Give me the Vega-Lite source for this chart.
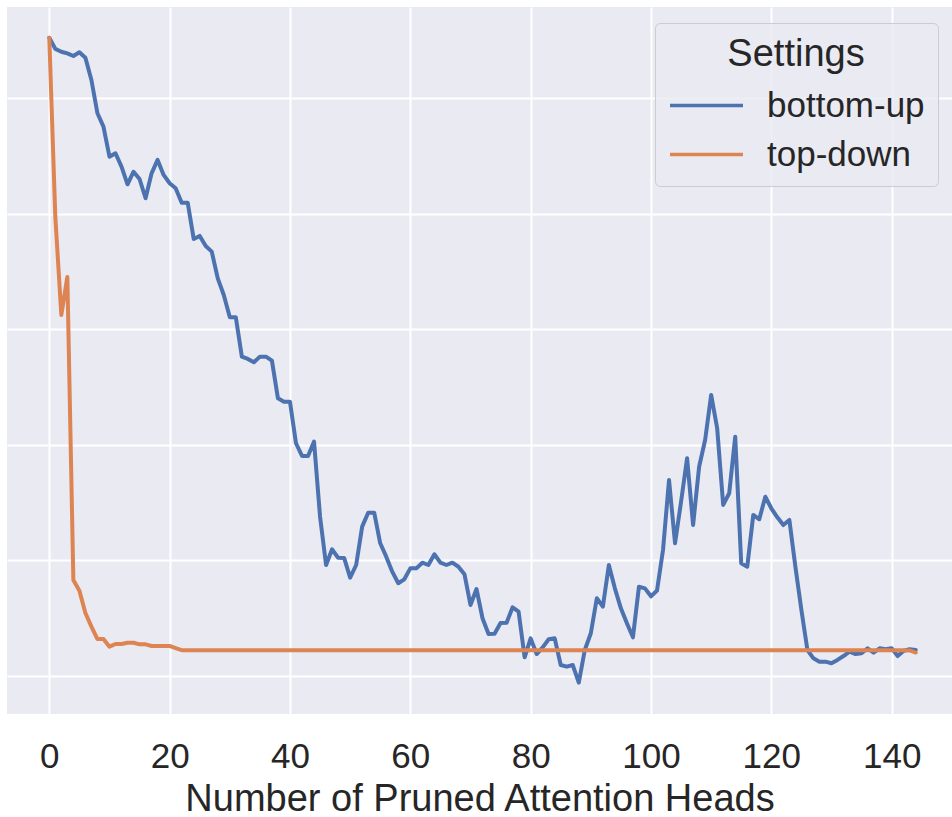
{
  "$schema": "https://vega.github.io/schema/vega-lite/v6.json",
  "width": 945,
  "height": 707,
  "autosize": "none",
  "padding": {"left": 7, "top": 7, "right": 0, "bottom": 103},
  "background": "white",
  "config": {
    "view": {"fill": "#EAEAF2", "stroke": null},
    "font": "Liberation Sans"
  },
  "data": {
    "values": [
      {"heads":0,"setting":"bottom-up","score":5.526},{"heads":1,"setting":"bottom-up","score":5.429},{"heads":2,"setting":"bottom-up","score":5.405},{"heads":3,"setting":"bottom-up","score":5.391},{"heads":4,"setting":"bottom-up","score":5.368},{"heads":5,"setting":"bottom-up","score":5.400},{"heads":6,"setting":"bottom-up","score":5.353},{"heads":7,"setting":"bottom-up","score":5.160},{"heads":8,"setting":"bottom-up","score":4.872},{"heads":9,"setting":"bottom-up","score":4.756},
      {"heads":10,"setting":"bottom-up","score":4.496},{"heads":11,"setting":"bottom-up","score":4.526},{"heads":12,"setting":"bottom-up","score":4.410},{"heads":13,"setting":"bottom-up","score":4.257},{"heads":14,"setting":"bottom-up","score":4.366},{"heads":15,"setting":"bottom-up","score":4.303},{"heads":16,"setting":"bottom-up","score":4.136},{"heads":17,"setting":"bottom-up","score":4.352},{"heads":18,"setting":"bottom-up","score":4.468},{"heads":19,"setting":"bottom-up","score":4.338},
      {"heads":20,"setting":"bottom-up","score":4.266},{"heads":21,"setting":"bottom-up","score":4.223},{"heads":22,"setting":"bottom-up","score":4.098},{"heads":23,"setting":"bottom-up","score":4.098},{"heads":24,"setting":"bottom-up","score":3.784},{"heads":25,"setting":"bottom-up","score":3.810},{"heads":26,"setting":"bottom-up","score":3.723},{"heads":27,"setting":"bottom-up","score":3.674},{"heads":28,"setting":"bottom-up","score":3.443},{"heads":29,"setting":"bottom-up","score":3.299},
      {"heads":30,"setting":"bottom-up","score":3.106},{"heads":31,"setting":"bottom-up","score":3.106},{"heads":32,"setting":"bottom-up","score":2.765},{"heads":33,"setting":"bottom-up","score":2.745},{"heads":34,"setting":"bottom-up","score":2.716},{"heads":35,"setting":"bottom-up","score":2.765},{"heads":36,"setting":"bottom-up","score":2.765},{"heads":37,"setting":"bottom-up","score":2.730},{"heads":38,"setting":"bottom-up","score":2.404},{"heads":39,"setting":"bottom-up","score":2.375},
      {"heads":40,"setting":"bottom-up","score":2.375},{"heads":41,"setting":"bottom-up","score":2.015},{"heads":42,"setting":"bottom-up","score":1.905},{"heads":43,"setting":"bottom-up","score":1.905},{"heads":44,"setting":"bottom-up","score":2.029},{"heads":45,"setting":"bottom-up","score":1.379},{"heads":46,"setting":"bottom-up","score":0.961},{"heads":47,"setting":"bottom-up","score":1.097},{"heads":48,"setting":"bottom-up","score":1.024},{"heads":49,"setting":"bottom-up","score":1.022},
      {"heads":50,"setting":"bottom-up","score":0.851},{"heads":51,"setting":"bottom-up","score":0.961},{"heads":52,"setting":"bottom-up","score":1.293},{"heads":53,"setting":"bottom-up","score":1.414},{"heads":54,"setting":"bottom-up","score":1.414},{"heads":55,"setting":"bottom-up","score":1.149},{"heads":56,"setting":"bottom-up","score":1.033},{"heads":57,"setting":"bottom-up","score":0.903},{"heads":58,"setting":"bottom-up","score":0.803},{"heads":59,"setting":"bottom-up","score":0.837},
      {"heads":60,"setting":"bottom-up","score":0.932},{"heads":61,"setting":"bottom-up","score":0.932},{"heads":62,"setting":"bottom-up","score":0.981},{"heads":63,"setting":"bottom-up","score":0.961},{"heads":64,"setting":"bottom-up","score":1.054},{"heads":65,"setting":"bottom-up","score":0.981},{"heads":66,"setting":"bottom-up","score":0.961},{"heads":67,"setting":"bottom-up","score":0.981},{"heads":68,"setting":"bottom-up","score":0.946},{"heads":69,"setting":"bottom-up","score":0.881},
      {"heads":70,"setting":"bottom-up","score":0.615},{"heads":71,"setting":"bottom-up","score":0.753},{"heads":72,"setting":"bottom-up","score":0.500},{"heads":73,"setting":"bottom-up","score":0.364},{"heads":74,"setting":"bottom-up","score":0.366},{"heads":75,"setting":"bottom-up","score":0.459},{"heads":76,"setting":"bottom-up","score":0.461},{"heads":77,"setting":"bottom-up","score":0.595},{"heads":78,"setting":"bottom-up","score":0.557},{"heads":79,"setting":"bottom-up","score":0.162},
      {"heads":80,"setting":"bottom-up","score":0.326},{"heads":81,"setting":"bottom-up","score":0.190},{"heads":82,"setting":"bottom-up","score":0.248},{"heads":83,"setting":"bottom-up","score":0.318},{"heads":84,"setting":"bottom-up","score":0.326},{"heads":85,"setting":"bottom-up","score":0.095},{"heads":86,"setting":"bottom-up","score":0.081},{"heads":87,"setting":"bottom-up","score":0.095},{"heads":88,"setting":"bottom-up","score":-0.058},{"heads":89,"setting":"bottom-up","score":0.225},
      {"heads":90,"setting":"bottom-up","score":0.370},{"heads":91,"setting":"bottom-up","score":0.673},{"heads":92,"setting":"bottom-up","score":0.600},{"heads":93,"setting":"bottom-up","score":0.961},{"heads":94,"setting":"bottom-up","score":0.759},{"heads":95,"setting":"bottom-up","score":0.586},{"heads":96,"setting":"bottom-up","score":0.456},{"heads":97,"setting":"bottom-up","score":0.335},{"heads":98,"setting":"bottom-up","score":0.773},{"heads":99,"setting":"bottom-up","score":0.759},
      {"heads":100,"setting":"bottom-up","score":0.690},{"heads":101,"setting":"bottom-up","score":0.739},{"heads":102,"setting":"bottom-up","score":1.091},{"heads":103,"setting":"bottom-up","score":1.697},{"heads":104,"setting":"bottom-up","score":1.149},{"heads":105,"setting":"bottom-up","score":1.509},{"heads":106,"setting":"bottom-up","score":1.885},{"heads":107,"setting":"bottom-up","score":1.307},{"heads":108,"setting":"bottom-up","score":1.812},{"heads":109,"setting":"bottom-up","score":2.043},
      {"heads":110,"setting":"bottom-up","score":2.433},{"heads":111,"setting":"bottom-up","score":2.145},{"heads":112,"setting":"bottom-up","score":1.481},{"heads":113,"setting":"bottom-up","score":1.582},{"heads":114,"setting":"bottom-up","score":2.072},{"heads":115,"setting":"bottom-up","score":0.976},{"heads":116,"setting":"bottom-up","score":0.946},{"heads":117,"setting":"bottom-up","score":1.394},{"heads":118,"setting":"bottom-up","score":1.357},{"heads":119,"setting":"bottom-up","score":1.552},
      {"heads":120,"setting":"bottom-up","score":1.452},{"heads":121,"setting":"bottom-up","score":1.374},{"heads":122,"setting":"bottom-up","score":1.307},{"heads":123,"setting":"bottom-up","score":1.351},{"heads":124,"setting":"bottom-up","score":0.946},{"heads":125,"setting":"bottom-up","score":0.571},{"heads":126,"setting":"bottom-up","score":0.225},{"heads":127,"setting":"bottom-up","score":0.153},{"heads":128,"setting":"bottom-up","score":0.124},{"heads":129,"setting":"bottom-up","score":0.124},
      {"heads":130,"setting":"bottom-up","score":0.110},{"heads":131,"setting":"bottom-up","score":0.139},{"heads":132,"setting":"bottom-up","score":0.173},{"heads":133,"setting":"bottom-up","score":0.210},{"heads":134,"setting":"bottom-up","score":0.190},{"heads":135,"setting":"bottom-up","score":0.197},{"heads":136,"setting":"bottom-up","score":0.240},{"heads":137,"setting":"bottom-up","score":0.202},{"heads":138,"setting":"bottom-up","score":0.240},{"heads":139,"setting":"bottom-up","score":0.231},
      {"heads":140,"setting":"bottom-up","score":0.240},{"heads":141,"setting":"bottom-up","score":0.173},{"heads":142,"setting":"bottom-up","score":0.219},{"heads":143,"setting":"bottom-up","score":0.231},{"heads":144,"setting":"bottom-up","score":0.225},
      {"heads":0,"setting":"top-down","score":5.526},{"heads":1,"setting":"top-down","score":3.974},{"heads":2,"setting":"top-down","score":3.126},{"heads":3,"setting":"top-down","score":3.455},{"heads":4,"setting":"top-down","score":0.831},{"heads":5,"setting":"top-down","score":0.739},{"heads":6,"setting":"top-down","score":0.545},{"heads":7,"setting":"top-down","score":0.427},{"heads":8,"setting":"top-down","score":0.320},{"heads":9,"setting":"top-down","score":0.320},
      {"heads":10,"setting":"top-down","score":0.254},{"heads":11,"setting":"top-down","score":0.277},{"heads":12,"setting":"top-down","score":0.277},{"heads":13,"setting":"top-down","score":0.288},{"heads":14,"setting":"top-down","score":0.288},{"heads":15,"setting":"top-down","score":0.274},{"heads":16,"setting":"top-down","score":0.274},{"heads":17,"setting":"top-down","score":0.260},{"heads":18,"setting":"top-down","score":0.260},{"heads":19,"setting":"top-down","score":0.260},
      {"heads":20,"setting":"top-down","score":0.260},{"heads":21,"setting":"top-down","score":0.242},{"heads":22,"setting":"top-down","score":0.223},{"heads":23,"setting":"top-down","score":0.223},{"heads":24,"setting":"top-down","score":0.223},{"heads":25,"setting":"top-down","score":0.223},{"heads":26,"setting":"top-down","score":0.223},{"heads":27,"setting":"top-down","score":0.223},{"heads":28,"setting":"top-down","score":0.223},{"heads":29,"setting":"top-down","score":0.223},
      {"heads":30,"setting":"top-down","score":0.223},{"heads":31,"setting":"top-down","score":0.223},{"heads":32,"setting":"top-down","score":0.223},{"heads":33,"setting":"top-down","score":0.223},{"heads":34,"setting":"top-down","score":0.223},{"heads":35,"setting":"top-down","score":0.223},{"heads":36,"setting":"top-down","score":0.223},{"heads":37,"setting":"top-down","score":0.223},{"heads":38,"setting":"top-down","score":0.223},{"heads":39,"setting":"top-down","score":0.223},
      {"heads":40,"setting":"top-down","score":0.223},{"heads":41,"setting":"top-down","score":0.223},{"heads":42,"setting":"top-down","score":0.223},{"heads":43,"setting":"top-down","score":0.223},{"heads":44,"setting":"top-down","score":0.223},{"heads":45,"setting":"top-down","score":0.223},{"heads":46,"setting":"top-down","score":0.223},{"heads":47,"setting":"top-down","score":0.223},{"heads":48,"setting":"top-down","score":0.223},{"heads":49,"setting":"top-down","score":0.223},
      {"heads":50,"setting":"top-down","score":0.223},{"heads":51,"setting":"top-down","score":0.223},{"heads":52,"setting":"top-down","score":0.223},{"heads":53,"setting":"top-down","score":0.223},{"heads":54,"setting":"top-down","score":0.223},{"heads":55,"setting":"top-down","score":0.223},{"heads":56,"setting":"top-down","score":0.223},{"heads":57,"setting":"top-down","score":0.223},{"heads":58,"setting":"top-down","score":0.223},{"heads":59,"setting":"top-down","score":0.223},
      {"heads":60,"setting":"top-down","score":0.223},{"heads":61,"setting":"top-down","score":0.223},{"heads":62,"setting":"top-down","score":0.223},{"heads":63,"setting":"top-down","score":0.223},{"heads":64,"setting":"top-down","score":0.223},{"heads":65,"setting":"top-down","score":0.223},{"heads":66,"setting":"top-down","score":0.223},{"heads":67,"setting":"top-down","score":0.223},{"heads":68,"setting":"top-down","score":0.223},{"heads":69,"setting":"top-down","score":0.223},
      {"heads":70,"setting":"top-down","score":0.223},{"heads":71,"setting":"top-down","score":0.223},{"heads":72,"setting":"top-down","score":0.223},{"heads":73,"setting":"top-down","score":0.223},{"heads":74,"setting":"top-down","score":0.223},{"heads":75,"setting":"top-down","score":0.223},{"heads":76,"setting":"top-down","score":0.223},{"heads":77,"setting":"top-down","score":0.223},{"heads":78,"setting":"top-down","score":0.223},{"heads":79,"setting":"top-down","score":0.223},
      {"heads":80,"setting":"top-down","score":0.223},{"heads":81,"setting":"top-down","score":0.223},{"heads":82,"setting":"top-down","score":0.223},{"heads":83,"setting":"top-down","score":0.223},{"heads":84,"setting":"top-down","score":0.223},{"heads":85,"setting":"top-down","score":0.223},{"heads":86,"setting":"top-down","score":0.223},{"heads":87,"setting":"top-down","score":0.223},{"heads":88,"setting":"top-down","score":0.223},{"heads":89,"setting":"top-down","score":0.223},
      {"heads":90,"setting":"top-down","score":0.223},{"heads":91,"setting":"top-down","score":0.223},{"heads":92,"setting":"top-down","score":0.223},{"heads":93,"setting":"top-down","score":0.223},{"heads":94,"setting":"top-down","score":0.223},{"heads":95,"setting":"top-down","score":0.223},{"heads":96,"setting":"top-down","score":0.223},{"heads":97,"setting":"top-down","score":0.223},{"heads":98,"setting":"top-down","score":0.223},{"heads":99,"setting":"top-down","score":0.223},
      {"heads":100,"setting":"top-down","score":0.223},{"heads":101,"setting":"top-down","score":0.223},{"heads":102,"setting":"top-down","score":0.223},{"heads":103,"setting":"top-down","score":0.223},{"heads":104,"setting":"top-down","score":0.223},{"heads":105,"setting":"top-down","score":0.223},{"heads":106,"setting":"top-down","score":0.223},{"heads":107,"setting":"top-down","score":0.223},{"heads":108,"setting":"top-down","score":0.223},{"heads":109,"setting":"top-down","score":0.223},
      {"heads":110,"setting":"top-down","score":0.223},{"heads":111,"setting":"top-down","score":0.223},{"heads":112,"setting":"top-down","score":0.223},{"heads":113,"setting":"top-down","score":0.223},{"heads":114,"setting":"top-down","score":0.223},{"heads":115,"setting":"top-down","score":0.223},{"heads":116,"setting":"top-down","score":0.223},{"heads":117,"setting":"top-down","score":0.223},{"heads":118,"setting":"top-down","score":0.223},{"heads":119,"setting":"top-down","score":0.223},
      {"heads":120,"setting":"top-down","score":0.223},{"heads":121,"setting":"top-down","score":0.223},{"heads":122,"setting":"top-down","score":0.223},{"heads":123,"setting":"top-down","score":0.223},{"heads":124,"setting":"top-down","score":0.223},{"heads":125,"setting":"top-down","score":0.223},{"heads":126,"setting":"top-down","score":0.223},{"heads":127,"setting":"top-down","score":0.223},{"heads":128,"setting":"top-down","score":0.223},{"heads":129,"setting":"top-down","score":0.223},
      {"heads":130,"setting":"top-down","score":0.223},{"heads":131,"setting":"top-down","score":0.223},{"heads":132,"setting":"top-down","score":0.223},{"heads":133,"setting":"top-down","score":0.223},{"heads":134,"setting":"top-down","score":0.223},{"heads":135,"setting":"top-down","score":0.223},{"heads":136,"setting":"top-down","score":0.223},{"heads":137,"setting":"top-down","score":0.223},{"heads":138,"setting":"top-down","score":0.223},{"heads":139,"setting":"top-down","score":0.223},
      {"heads":140,"setting":"top-down","score":0.223},{"heads":141,"setting":"top-down","score":0.223},{"heads":142,"setting":"top-down","score":0.223},{"heads":143,"setting":"top-down","score":0.221},{"heads":144,"setting":"top-down","score":0.203}
    ]
  },
  "mark": {"type": "line", "strokeWidth": 4, "strokeCap": "round", "strokeJoin": "round", "clip": true},
  "encoding": {
    "x": {
      "field": "heads", "type": "quantitative",
      "scale": {"domain": [-7.03, 150.03], "nice": false, "zero": false},
      "axis": {
        "values": [0, 20, 40, 60, 80, 100, 120, 140],
        "grid": true, "gridColor": "#FFFFFF", "gridWidth": 2,
        "ticks": false, "domain": false,
        "labelFontSize": 35, "labelColor": "#262626", "labelPadding": 25,
        "labelFont": "Liberation Sans",
        "title": "Number of Pruned Attention Heads",
        "titleFontSize": 38, "titleFontWeight": "normal", "titleColor": "#262626",
        "titleFont": "Liberation Sans", "titlePadding": 6
      }
    },
    "y": {
      "field": "score", "type": "quantitative",
      "scale": {"domain": [-0.329, 5.792], "nice": false, "zero": false},
      "axis": {
        "values": [0, 1, 2, 3, 4, 5],
        "grid": true, "gridColor": "#FFFFFF", "gridWidth": 2,
        "ticks": false, "domain": false, "labels": false, "title": null
      }
    },
    "color": {
      "field": "setting", "type": "nominal",
      "scale": {"domain": ["bottom-up", "top-down"], "range": ["#4C72B0", "#DD8452"]},
      "legend": {
        "title": "Settings",
        "orient": "none", "legendX": 648, "legendY": 16,
        "titleFontSize": 38, "titleFontWeight": "normal", "titleColor": "#262626",
        "titleFont": "Liberation Sans", "titleAnchor": "middle", "titlePadding": 14,
        "labelFontSize": 35, "labelColor": "#262626", "labelFont": "Liberation Sans",
        "labelOffset": 22,
        "symbolType": "stroke", "symbolSize": 5329, "symbolStrokeWidth": 3.5,
        "clipHeight": 35, "rowPadding": 13,
        "fillColor": "rgba(234,234,242,0.8)", "strokeColor": "#CCCCCC",
        "cornerRadius": 5, "padding": 13
      }
    }
  }
}
